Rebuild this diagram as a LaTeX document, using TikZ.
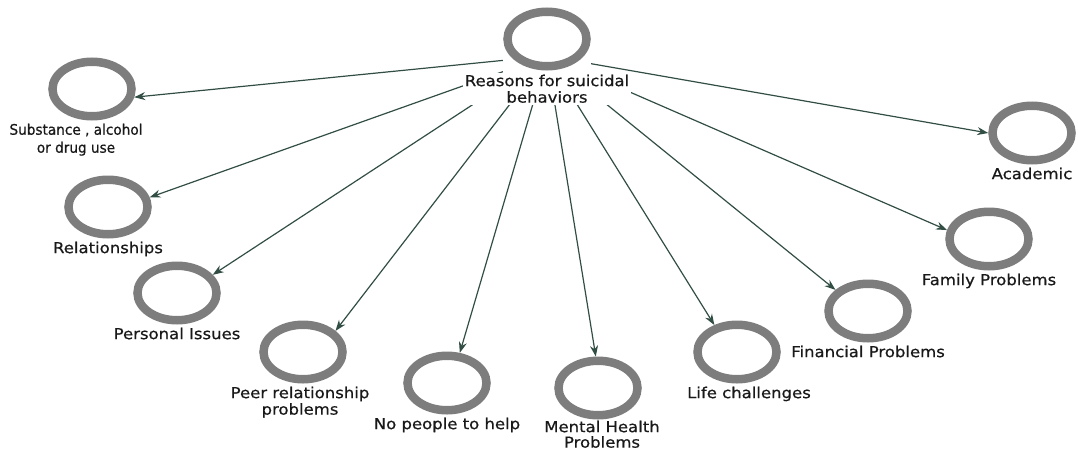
\documentclass[tikz,border=0pt]{standalone}
\usepackage{fontspec}
\setmainfont{DejaVu Sans}[FakeStretch=1.1,FakeBold=0.6]
\newfontfamily\narrowfont{DejaVu Sans}[FakeStretch=0.94,FakeBold=0.6]
\usetikzlibrary{shapes.geometric,arrows.meta,positioning,backgrounds}
\definecolor{ringgray}{RGB}{125,125,125}
\definecolor{linkcol}{RGB}{50,78,68}

\begin{document}
\begin{tikzpicture}[x=1pt,y=-1pt,
    ring/.style={ellipse,draw=ringgray,line width=8.5pt,minimum width=79pt,minimum height=54.5pt,inner sep=0pt},
    txt/.style={align=center,inner sep=0pt,text=black!90,font=\fontsize{15}{16.5}\selectfont},
    link/.style={draw=linkcol,line width=1.2pt,-{Stealth[length=11pt,width=8pt]}}]
    \useasboundingbox (0,0) rectangle (1078,450);

    % centre
    \node[ring] (root) at (547,39) {};
    \node[txt,fill=white,inner sep=2pt,below=2pt of root] (root-t) {Reasons for suicidal\\behaviors};
    \coordinate (hub) at (547,56);

    % reasons
    \node[ring] (subst) at (92,89) {};
    \node[ring] (relat) at (108,207) {};
    \node[ring] (pers) at (177,293) {};
    \node[ring] (peer) at (303,352) {};
    \node[ring] (nohelp) at (447,383) {};
    \node[ring] (mental) at (598,388) {};
    \node[ring] (life) at (737,352) {};
    \node[ring] (fin) at (868,311) {};
    \node[ring] (fam) at (989,239) {};
    \node[ring] (acad) at (1032,133) {};

    \node[txt,below=3pt of subst,xshift=-16pt,font=\narrowfont\fontsize{14.5}{18}\selectfont] (subst-t) {Substance , alcohol\\or drug use};
    \node[txt,below=3pt of relat] (relat-t) {Relationships};
    \node[txt,below=3pt of pers] (pers-t) {Personal Issues};
    \node[txt,below=3pt of peer,xshift=-3pt] (peer-t) {Peer relationship\\problems};
    \node[txt,below=3pt of nohelp] (nohelp-t) {No people to help};
    \node[txt,below=1pt of mental,xshift=4pt,font=\fontsize{15}{15.5}\selectfont] (mental-t) {Mental Health\\Problems};
    \node[txt,below=3pt of life,xshift=12pt] (life-t) {Life challenges};
    \node[txt,below=3pt of fin] (fin-t) {Financial Problems};
    \node[txt,below=3pt of fam] (fam-t) {Family Problems};
    \node[txt,below=3pt of acad] (acad-t) {Academic};

    \begin{scope}[on background layer]
        \foreach \n/\a in {subst/349,relat/13,pers/27,peer/33,nohelp/67,mental/94,life/130,fin/147,fam/168,acad/180}
            \draw[link] (hub) -- (\n.\a);
        \fill[white] (root.west |- root.north) rectangle (root.east |- root-t.north);
    \end{scope}
\end{tikzpicture}
\end{document}
